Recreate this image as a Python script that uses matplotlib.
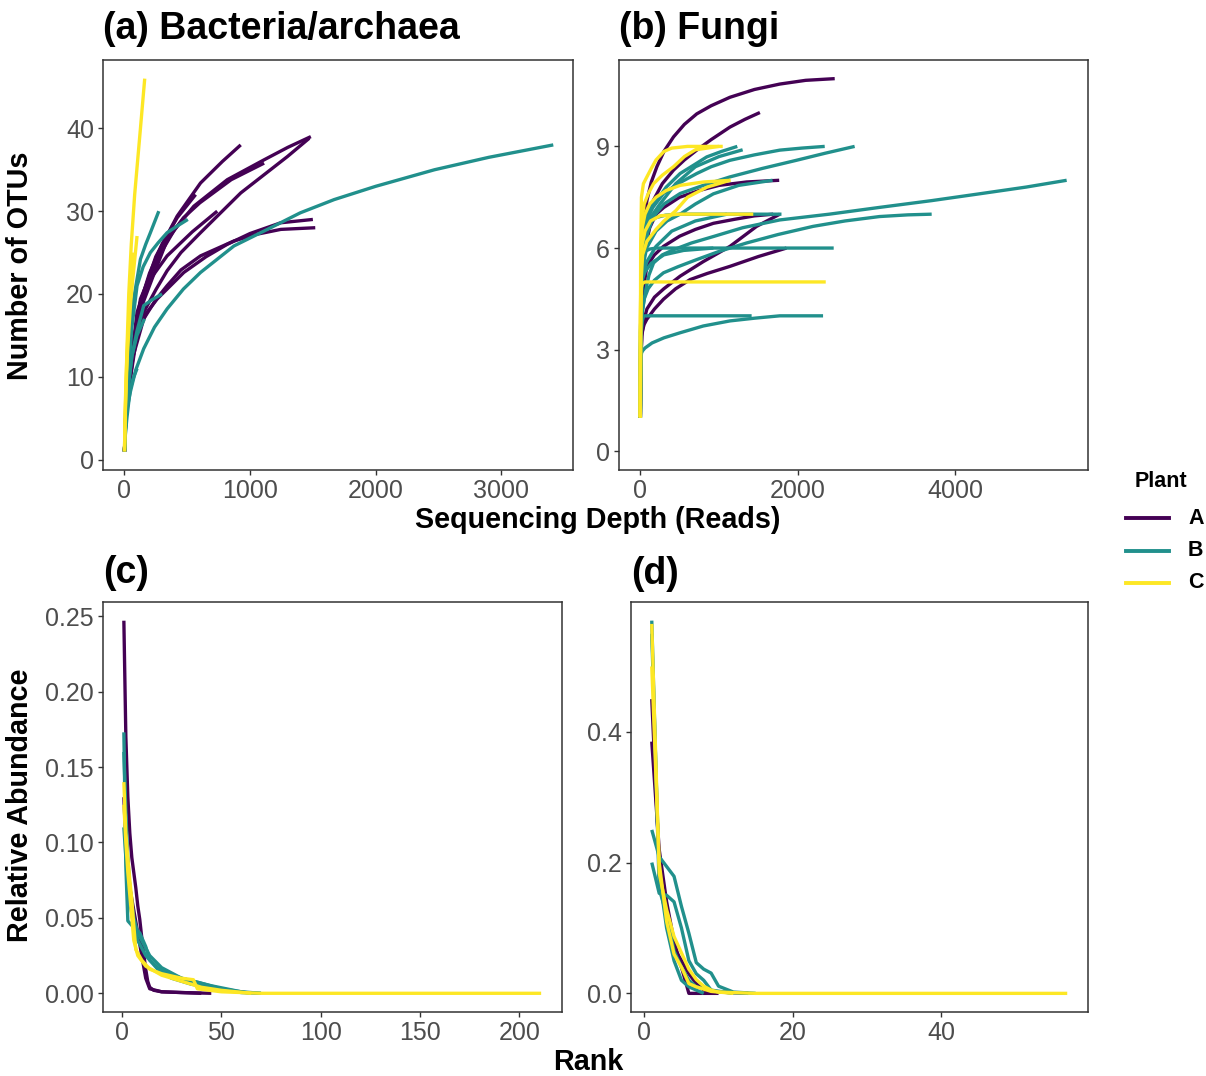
import matplotlib
matplotlib.use("Agg")
import matplotlib.pyplot as plt
from matplotlib.lines import Line2D
from matplotlib.ticker import FormatStrFormatter

plt.rcParams["font.family"] = ["Liberation Sans", "DejaVu Sans"]

W, H = 1206, 1076
COLORS = {"A": "#440154", "B": "#21908C", "C": "#FDE725"}
_SPINE = "#333333"
_TICKTXT = "#4D4D4D"

# ---- (a) bacteria/archaea rarefaction: depth (reads) vs OTUs ----
a_plant = ["A", "A", "A", "A", "A", "A", "A", "A",
           "B", "B", "B", "B", "B", "B",
           "C", "C", "C"]
a_depth = [
    [1, 10, 30, 60, 100, 154, 250, 420, 606, 780, 926],
    [1, 10, 30, 60, 128, 261, 400, 553, 819, 1112, 1300, 1484],
    [1, 10, 30, 60, 128, 200, 300, 420, 567],
    [1, 10, 40, 90, 150, 250, 340, 470, 600, 850, 1112],
    [1, 10, 40, 90, 154, 250, 340, 450, 606, 926, 1298, 1471],
    [1, 10, 30, 60, 101, 150, 207, 340, 540, 739],
    [1, 10, 30, 60, 101, 180, 261, 473, 650, 819, 1000, 1245, 1500],
    [1, 10, 30, 70, 154, 250, 340, 450, 606, 872, 1050, 1245, 1519],
    [1, 8, 20, 48, 90, 154, 240, 340, 470, 606, 872, 1138, 1400, 1670, 2000, 2468, 2900, 3413],
    [1, 10, 30, 74, 128, 170, 207, 274],
    [1, 10, 30, 60, 101, 150, 207, 270, 340, 420, 505],
    [1, 10, 30, 60, 100, 154, 220, 300],
    [1, 8, 20, 35, 48, 70, 101],
    [1, 10, 30, 60, 100, 160],
    [1, 5, 11, 20, 35, 55, 82, 105, 128, 145, 162],
    [1, 5, 10, 18, 25, 35, 50, 65, 75, 88, 101],
    [1, 5, 10, 18, 25, 35, 45, 57, 69],
]
a_otus = [
    [1, 5, 9, 13, 16.5, 20.2, 24.5, 29.4, 33.4, 36, 38],
    [1, 5, 8.5, 13, 19.4, 24.2, 27.8, 30.6, 33.8, 36.2, 37.7, 39],
    [1, 5, 9, 13, 19, 22.5, 26, 29.2, 32],
    [1, 5, 10, 15, 19, 23, 26.5, 29.2, 31, 33.8, 35.8],
    [1, 4.5, 9, 14, 17.8, 20.5, 22.8, 25, 27.4, 32.2, 36.6, 38.8],
    [1, 5, 8, 12.5, 17.8, 20, 21.8, 24.6, 27.5, 30],
    [1, 4.5, 8, 12, 15.4, 17.8, 19.4, 22.6, 24.5, 26, 27.3, 28.6, 29],
    [1, 4.5, 8, 12.5, 17, 19.3, 21, 22.9, 24.6, 26.4, 27.2, 27.8, 28],
    [1, 4.2, 6, 8.2, 10.8, 13.4, 16, 18.2, 20.6, 22.6, 25.8, 27.8, 29.8, 31.4, 33, 35, 36.5, 38],
    [1, 6, 12, 19.4, 24.2, 26, 27.4, 30],
    [1, 5, 10, 16, 21, 23.3, 25, 26.2, 27.4, 28.2, 29],
    [1, 4, 8.5, 12.5, 15.5, 18.6, 19.3, 20],
    [1, 3, 5, 7, 8.6, 9.8, 11],
    [1, 4.5, 9, 12.5, 15, 17],
    [1, 4.5, 8, 13, 20, 26, 32, 36, 40, 43, 46],
    [1, 4, 7, 10.5, 13, 15.5, 19, 21.5, 23, 25, 27],
    [1, 4.5, 8, 11.5, 14, 17, 20, 22.5, 25],
]

# ---- (b) fungi rarefaction ----
b_plant = ["A", "A", "A", "A", "A", "A",
           "B", "B", "B", "B", "B", "B", "B", "B", "B", "B", "B", "B", "B",
           "C", "C", "C", "C", "C", "C"]
b_depth = [
    [1, 3, 8, 21, 45, 84, 140, 211, 300, 422, 560, 717, 900, 1139, 1450, 1772, 2100, 2469],
    [1, 5, 15, 40, 90, 169, 280, 422, 560, 717, 900, 1139, 1330, 1519],
    [1, 5, 15, 30, 60, 120, 200, 300, 500, 750, 1000, 1350, 1764],
    [1, 5, 15, 40, 84, 180, 295, 500, 700, 928, 1200, 1450, 1688],
    [1, 5, 20, 50, 84, 180, 295, 450, 633, 850, 1139, 1500, 1857],
    [1, 5, 20, 50, 84, 180, 300, 506, 800, 1139, 1477, 1772],
    [1, 4, 10, 30, 63, 110, 169, 280, 422, 650, 928, 1300, 1772, 2400, 3038, 3700, 4304, 4900, 5414],
    [1, 5, 20, 50, 100, 180, 295, 480, 717, 1000, 1350, 1750, 2194, 2600, 3038, 3400, 3700],
    [1, 4, 10, 25, 60, 100, 169, 300, 506, 800, 1139, 1550, 1983, 2350, 2722],
    [1, 4, 10, 30, 80, 160, 295, 480, 717, 900, 1139, 1450, 1772, 2050, 2342],
    [1, 4, 10, 30, 80, 140, 211, 330, 506, 680, 844, 1030, 1232],
    [1, 4, 10, 25, 60, 120, 200, 320, 500, 900, 1793],
    [1, 4, 10, 25, 60, 120, 200, 300, 600, 2456],
    [1, 3, 8, 15, 30, 60, 150, 300, 506, 800, 1139, 1450, 1772, 2050, 2321],
    [1, 4, 10, 20, 40, 60, 150, 1414],
    [1, 4, 10, 30, 80, 200, 340, 506, 700, 928, 1250, 1680],
    [1, 4, 10, 30, 60, 140, 300, 550, 928],
    [1, 4, 10, 30, 84, 200, 400, 700, 1100],
    [1, 4, 10, 40, 100, 250, 450, 700, 1000, 1300],
    [1, 2, 5, 15, 40, 84, 140, 200, 300, 400, 600, 1047],
    [1, 3, 10, 25, 50, 100, 169, 280, 422, 560, 700, 1000],
    [1, 3, 10, 25, 60, 120, 200, 330, 506, 800, 1148],
    [1, 3, 10, 25, 60, 130, 250, 500, 1435],
    [1, 3, 10, 25, 60, 150, 2355],
    [1, 3, 10, 30, 84, 200, 300, 450, 600, 850, 1140],
]
b_otus = [
    [1, 2.5, 4, 5.7, 6.7, 7.4, 7.95, 8.4, 8.85, 9.28, 9.65, 9.96, 10.2, 10.45, 10.68, 10.84, 10.95, 11],
    [1, 3, 4.7, 6, 6.9, 7.42, 7.9, 8.3, 8.6, 8.89, 9.2, 9.57, 9.8, 10],
    [1, 3, 4.5, 5.3, 6, 6.6, 7, 7.2, 7.5, 7.7, 7.85, 7.95, 8],
    [1, 2.8, 3.8, 4.8, 5.46, 5.8, 6.05, 6.35, 6.55, 6.73, 6.85, 6.95, 7],
    [1, 2.5, 3.5, 3.75, 3.9, 4.2, 4.49, 4.8, 5.07, 5.25, 5.46, 5.75, 6],
    [1, 2.5, 3.4, 3.9, 4.2, 4.55, 4.8, 5.17, 5.6, 6.05, 6.64, 7],
    [1, 2.5, 3.5, 4.2, 4.68, 5.2, 5.56, 5.8, 5.95, 6.15, 6.34, 6.6, 6.83, 7.0, 7.2, 7.4, 7.6, 7.8, 8],
    [1, 2.8, 4, 4.5, 4.8, 5.05, 5.27, 5.45, 5.66, 5.9, 6.15, 6.4, 6.64, 6.8, 6.93, 6.98, 7],
    [1, 3, 4.5, 5.4, 6, 6.5, 6.93, 7.3, 7.61, 7.85, 8.1, 8.35, 8.59, 8.8, 9],
    [1, 3.5, 5, 6, 6.8, 7.2, 7.61, 7.9, 8.2, 8.4, 8.59, 8.75, 8.89, 8.95, 9],
    [1, 3.5, 5, 6.2, 7, 7.25, 7.42, 7.8, 8.2, 8.45, 8.69, 8.85, 9],
    [1, 3.5, 5, 6, 6.5, 6.75, 6.9, 6.97, 7, 7, 7],
    [1, 3.5, 5, 5.5, 5.9, 5.97, 6, 6, 6, 6],
    [1, 2, 2.6, 2.9, 2.97, 3.05, 3.2, 3.35, 3.5, 3.7, 3.85, 3.93, 4, 4, 4],
    [1, 2.5, 3.4, 3.8, 3.97, 4, 4, 4],
    [1, 3, 4.5, 5.4, 6, 6.5, 6.8, 7, 7.3, 7.6, 7.85, 8],
    [1, 3, 4.5, 5.1, 5.3, 5.55, 5.8, 5.93, 6],
    [1, 3, 4.5, 5.2, 5.6, 6.05, 6.5, 6.8, 7],
    [1, 3, 4.8, 6.2, 6.8, 7.3, 7.9, 8.4, 8.7, 8.9],
    [1, 3, 6, 7.5, 7.9, 8.1, 8.35, 8.6, 8.85, 8.95, 9, 9],
    [1, 4, 6, 6.9, 7.3, 7.6, 7.9, 8.15, 8.4, 8.7, 8.9, 9],
    [1, 4, 6, 6.6, 7, 7.3, 7.5, 7.7, 7.85, 7.95, 8],
    [1, 4, 5.5, 6.1, 6.5, 6.8, 6.95, 7, 7],
    [1, 3.5, 4.8, 4.95, 5, 5, 5],
    [1, 3.5, 5, 5.8, 6.2, 6.55, 6.8, 7.1, 7.5, 7.8, 8],
]

# ---- (c) bacteria/archaea rank abundance ----
c_plant = ["A", "A", "B", "B", "B", "C", "C"]
c_rank = [
    [1, 2, 3, 4, 5, 6, 7, 8, 9, 10, 11, 12, 13, 14, 16, 20, 30, 40],
    [1, 2, 3, 4, 6, 8, 10, 12, 14, 20, 30, 45],
    [1, 2, 3, 5, 9, 12, 14, 18, 23, 30, 39, 50, 60, 70],
    [1, 2, 3, 4, 6, 8, 10, 14, 20, 30, 45, 60, 70],
    [1, 2, 4, 6, 8, 12, 18, 25, 35, 50, 65],
    [1, 2, 3, 4, 5, 6, 7, 10, 14, 20, 30, 36, 38, 50, 70, 211],
    [1, 2, 3, 4, 5, 6, 8, 12, 20, 30, 40, 50, 65],
]
c_abund = [
    [0.247, 0.17, 0.13, 0.106, 0.09, 0.08, 0.07, 0.058, 0.049, 0.037, 0.026, 0.016, 0.008, 0.004,
     0.002, 0.001, 0.0005, 0],
    [0.13, 0.1, 0.085, 0.07, 0.055, 0.04, 0.025, 0.01, 0.003, 0.001, 0.0005, 0],
    [0.173, 0.084, 0.048, 0.045, 0.04, 0.031, 0.022, 0.017, 0.0136, 0.01, 0.007, 0.003, 0.0005, 0],
    [0.16, 0.12, 0.09, 0.07, 0.05, 0.04, 0.035, 0.025, 0.017, 0.01, 0.005, 0.001, 0],
    [0.11, 0.09, 0.06, 0.045, 0.035, 0.025, 0.016, 0.01, 0.006, 0.003, 0],
    [0.14, 0.106, 0.09, 0.075, 0.062, 0.045, 0.029, 0.022, 0.016, 0.013, 0.01, 0.009, 0.003,
     0.001, 0, 0],
    [0.125, 0.1, 0.08, 0.065, 0.05, 0.035, 0.025, 0.018, 0.012, 0.008, 0.004, 0.002, 0],
]

# ---- (d) fungi rank abundance ----
d_plant = ["A", "A", "B", "B", "B", "B", "C", "C"]
d_rank = [
    [1, 2, 3, 4, 5, 6, 10],
    [1, 2, 3, 4, 5, 6, 7, 8, 10, 14],
    [1, 2, 3, 4, 5, 6, 7, 10, 14],
    [1, 2, 3, 4, 5, 6, 7, 8, 9, 10, 12, 15],
    [1, 2, 3, 4, 5, 6, 7, 8, 9, 12],
    [1, 2, 3, 4, 5, 6, 8],
    [1, 2, 3, 4, 5, 6, 7, 8, 9, 10, 15, 57],
    [1, 2, 3, 4, 5, 6, 7, 9, 12],
]
d_abund = [
    [0.385, 0.22, 0.14, 0.08, 0.04, 0.0, 0.0],
    [0.45, 0.2, 0.12, 0.07, 0.05, 0.03, 0.015, 0.005, 0.002, 0],
    [0.57, 0.16, 0.12, 0.065, 0.04, 0.02, 0.01, 0.002, 0],
    [0.25, 0.209, 0.194, 0.179, 0.133, 0.092, 0.047, 0.037, 0.031, 0.011, 0.002, 0],
    [0.2, 0.153, 0.15, 0.14, 0.1, 0.05, 0.03, 0.02, 0.005, 0],
    [0.55, 0.18, 0.1, 0.05, 0.02, 0.01, 0],
    [0.565, 0.184, 0.128, 0.087, 0.062, 0.037, 0.021, 0.011, 0.005, 0.002, 0, 0],
    [0.5, 0.2, 0.11, 0.06, 0.04, 0.015, 0.01, 0.003, 0],
]


def _box(l, t, r, b):
    return [l / W, 1 - b / H, (r - l) / W, (b - t) / H]


def _style(ax):
    for s in ax.spines.values():
        s.set_color(_SPINE)
        s.set_linewidth(1.1)
    ax.tick_params(direction="out", length=3.5, width=1.0, color=_SPINE,
                   labelsize=18, labelcolor=_TICKTXT, pad=3)


def _draw(ax, plants, xs, ys):
    # plant A first, C on top, as in the original
    for grp in ["A", "B", "C"]:
        for p, x, y in zip(plants, xs, ys):
            if p == grp:
                ax.plot(x, y, color=COLORS[p], lw=2.4, solid_capstyle="butt",
                        solid_joinstyle="round")


fig = plt.figure(figsize=(W / 100, H / 100), dpi=100)

ax_a = fig.add_axes(_box(103, 60, 573, 470))
_draw(ax_a, a_plant, a_depth, a_otus)
ax_a.set_xlim(-170, 3570)
ax_a.set_ylim(-1.25, 48.25)
ax_a.set_xticks([0, 1000, 2000, 3000])
ax_a.set_yticks([0, 10, 20, 30, 40])
_style(ax_a)

ax_b = fig.add_axes(_box(619, 60, 1088, 470))
_draw(ax_b, b_plant, b_depth, b_otus)
ax_b.set_xlim(-270, 5685)
ax_b.set_ylim(-0.55, 11.55)
ax_b.set_xticks([0, 2000, 4000])
ax_b.set_yticks([0, 3, 6, 9])
_style(ax_b)

ax_c = fig.add_axes(_box(103, 602, 562, 1012))
_draw(ax_c, c_plant, c_rank, c_abund)
ax_c.set_xlim(-9.5, 221.5)
ax_c.set_ylim(-0.0124, 0.2594)
ax_c.set_xticks([0, 50, 100, 150, 200])
ax_c.set_yticks([0, 0.05, 0.10, 0.15, 0.20, 0.25])
ax_c.yaxis.set_major_formatter(FormatStrFormatter("%.2f"))
_style(ax_c)

ax_d = fig.add_axes(_box(631, 602, 1088, 1012))
_draw(ax_d, d_plant, d_rank, d_abund)
ax_d.set_xlim(-1.8, 59.8)
ax_d.set_ylim(-0.0285, 0.5985)
ax_d.set_xticks([0, 20, 40])
ax_d.set_yticks([0, 0.2, 0.4])
ax_d.yaxis.set_major_formatter(FormatStrFormatter("%.1f"))
_style(ax_d)

# panel titles
title_kw = dict(fontsize=27, fontweight="bold", va="center", ha="left")
fig.text(103 / W, 1 - 29 / H, "(a) Bacteria/archaea", **title_kw)
fig.text(619 / W, 1 - 29 / H, "(b) Fungi", **title_kw)
fig.text(103 / W, 1 - 573 / H, "(c)", **title_kw)
fig.text(631 / W, 1 - 574 / H, "(d)", **title_kw)

# shared axis labels
lab_kw = dict(fontsize=20.7, fontweight="bold", ha="center", va="center")
fig.text(20 / W, 1 - 266 / H, "Number of OTUs", rotation=90, **lab_kw)
fig.text(20 / W, 1 - 805 / H, "Relative Abundance", rotation=90, **lab_kw)
fig.text(598 / W, 1 - 520 / H, "Sequencing Depth (Reads)", **lab_kw)
fig.text(588 / W, 1 - 1062 / H, "Rank", **lab_kw)

# legend
fig.text(1135 / W, 1 - 481 / H, "Plant", fontsize=15.5, fontweight="bold",
         ha="left", va="center")
for i, p in enumerate(["A", "B", "C"]):
    yy = 1 - (518 + i * 32.5) / H
    fig.add_artist(Line2D([1126 / W, 1169 / W], [yy, yy], color=COLORS[p], lw=2.8,
                          transform=fig.transFigure))
    fig.text(1188 / W, yy, p, fontsize=15.5, fontweight="bold", ha="left", va="center")

fig.savefig("out.png", dpi=100)
plt.close(fig)
